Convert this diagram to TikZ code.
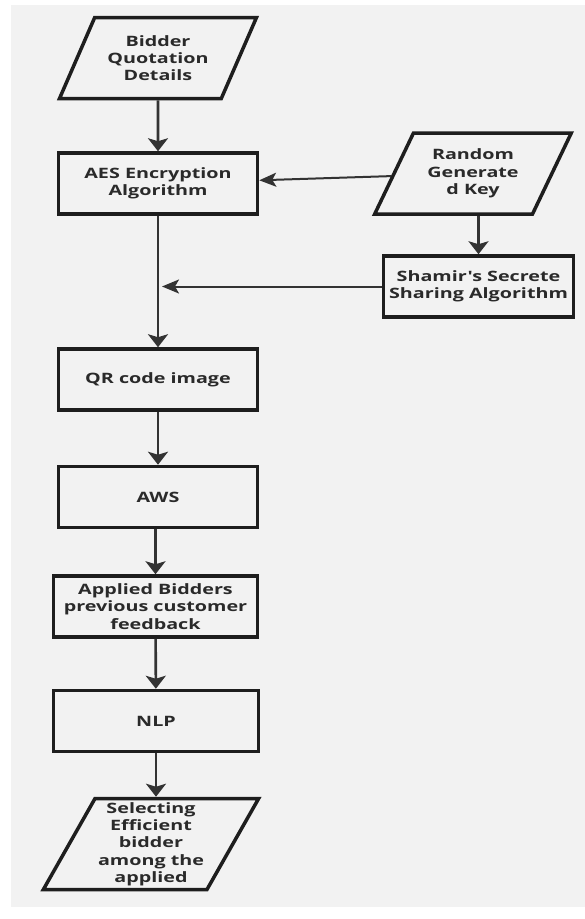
\documentclass[tikz,border=0pt]{standalone}
\usepackage{fontspec}
\newfontfamily\fcfont{Open Sans}[FakeStretch=1.38]
\usepackage{tikz}
\usetikzlibrary{shapes.geometric,arrows.meta,positioning,calc}
\definecolor{fcPanel}{HTML}{F2F2F2}
\definecolor{fcLine}{HTML}{1E1E1E}
\definecolor{fcArrow}{HTML}{333333}
\definecolor{fcText}{HTML}{2A2A2A}
\tikzset{
    fcBoxBase/.style={
        rectangle,
        draw=fcLine,
        line width=3.5pt,
        fill=fcPanel,
        text=fcText,
        font=\fcfont\bfseries\fontsize{14.3}{17.3}\selectfont,
        align=center,
        inner sep=3pt
    },
    % Flowchart variants
    process/.style={fcBoxBase, minimum width=199pt, minimum height=61pt},
    iodata/.style={
        fcBoxBase,
        trapezium,
        trapezium left angle=60,
        trapezium right angle=120,
        trapezium stretches=true,
        minimum width=197pt,
        minimum height=81pt
    },
    % Arrows
    vArrow/.style={-{Stealth[width=20pt,length=13pt,inset=3pt]}, line width=2.6pt, draw=fcArrow},
    hArrow/.style={-{Stealth[width=14pt,length=17pt,inset=4pt]}, line width=2pt, draw=fcArrow}
}
\begin{document}
\begin{tikzpicture}[x=1pt,y=-1pt]
    \useasboundingbox (0,0) rectangle (585,919);
    \fill[white] (0,0) rectangle (585,919);
    \fill[fcPanel] (11,5) rectangle (585,907);

    % Main column
    \node[iodata] (bqd) at (158,58) {Bidder\\Quotation\\Details};
    \node[process] (aes) at (158,183.5) {AES Encryption\\Algorithm};
    \node[process] (qr) at (158,379.5) {QR code image};
    \node[process] (aws) at (158,497) {AWS};
    \node[process, minimum width=204pt] (abf) at (155.5,606.5) {Applied Bidders\\previous customer\\feedback};
    \node[process, minimum width=205pt] (nlp) at (156,721) {NLP};
    \node[iodata, minimum width=213pt, minimum height=91pt] (seb) at (151,844) {Selecting\\Efficient\\bidder\\among the\\applied};

    % Key branch
    \node[iodata] (rgk) at (473,173.5) {Random\\Generate\\d Key};
    \node[process, minimum width=190pt] (ssa) at (478.5,286.5) {Shamir's Secrete\\Sharing Algorithm};

    % Connections
    \draw[vArrow] (bqd) -- (aes);
    \draw[vArrow] (aes) -- (qr);
    \draw[vArrow] (qr) -- (aws);
    \draw[vArrow] (aws.south -| abf.north) -- (abf.north);
    \draw[vArrow] (abf) -- (nlp);
    \draw[vArrow] (nlp.south) -- (nlp.south |- seb.north);
    \draw[hArrow] (rgk) -- (aes);
    \draw[vArrow] (rgk.south -| ssa.north) -- (ssa.north);
    \coordinate (tap) at ([xshift=4pt]aes.south |- ssa.west);
    \draw[hArrow] (ssa.west) -- (tap);
\end{tikzpicture}
\end{document}
